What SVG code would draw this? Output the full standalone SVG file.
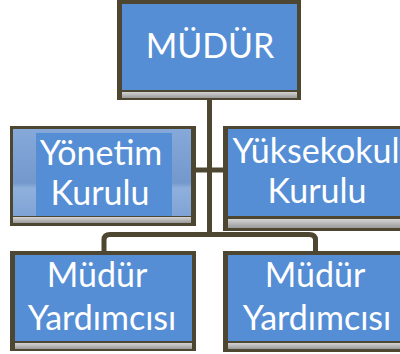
<svg xmlns="http://www.w3.org/2000/svg" width="400" height="354" viewBox="0 0 400 354">
  <style>
    .frame { fill: #4d4630; }
    .blue { fill: #558ed5; }
    .bar { fill: url(#grayBar); }
    .lbl { fill: #ffffff; font-family: Lato, "Liberation Sans", sans-serif; font-size: 34px; text-anchor: middle; }
    .conn { fill: none; stroke: #4d4630; stroke-width: 5; }
  </style>
  <defs>
    <linearGradient id="grayBar" x1="0" y1="0" x2="0" y2="1">
      <stop offset="0" stop-color="#d4d4d4"/>
      <stop offset="1" stop-color="#9a9a9a"/>
    </linearGradient>
    <linearGradient id="gloss" x1="0" y1="0" x2="0" y2="1">
      <stop offset="0" stop-color="#86a9da"/>
      <stop offset="0.62" stop-color="#7398cc"/>
      <stop offset="0.68" stop-color="#8fb0dc"/>
      <stop offset="1" stop-color="#7fa3d6"/>
    </linearGradient>
  </defs>

  <g id="connectors">
    <path class="conn" d="M209.5,100 V235"/>
    <path class="conn" d="M194,170 H224"/>
    <path class="conn" d="M104,252 V240 Q104,234.5 110,234.5 H309 Q315.5,234.5 315.5,240 V252"/>
  </g>

  <g id="mudur">
    <rect class="frame" x="117" y="0" width="184" height="100"/>
    <rect class="blue" x="122" y="4" width="175" height="86"/>
    <rect class="bar" x="122" y="92" width="175" height="6"/>
    <text class="lbl" x="210" y="58">MÜDÜR</text>
  </g>

  <g id="yonetim-kurulu">
    <rect class="frame" x="10" y="126" width="186" height="100"/>
    <rect fill="url(#gloss)" x="13" y="129" width="178" height="87"/>
    <rect class="blue" x="36" y="133" width="136" height="83"/>
    <rect class="bar" x="13" y="217" width="178" height="6"/>
    <text class="lbl" x="101" y="165">Yönetim</text>
    <text class="lbl" x="100" y="205">Kurulu</text>
  </g>

  <g id="yuksekokul-kurulu">
    <rect class="frame" x="223" y="126" width="182" height="105"/>
    <rect class="blue" x="228" y="129" width="177" height="87"/>
    <rect class="bar" x="228" y="219" width="177" height="9"/>
    <text class="lbl" x="316" y="163">Yüksekokul</text>
    <text class="lbl" x="317" y="203">Kurulu</text>
  </g>

  <g id="mudur-yardimcisi-1">
    <rect class="frame" x="10" y="251" width="186" height="100"/>
    <rect class="blue" x="15" y="255" width="177" height="86"/>
    <rect class="bar" x="15" y="343" width="177" height="6"/>
    <text class="lbl" x="97" y="287">Müdür</text>
    <text class="lbl" x="102" y="330">Yardımcısı</text>
  </g>

  <g id="mudur-yardimcisi-2">
    <rect class="frame" x="223" y="251" width="182" height="101"/>
    <rect class="blue" x="228" y="255" width="177" height="86"/>
    <rect class="bar" x="228" y="343" width="177" height="6"/>
    <text class="lbl" x="315" y="287">Müdür</text>
    <text class="lbl" x="317" y="330">Yardımcısı</text>
  </g>
</svg>
